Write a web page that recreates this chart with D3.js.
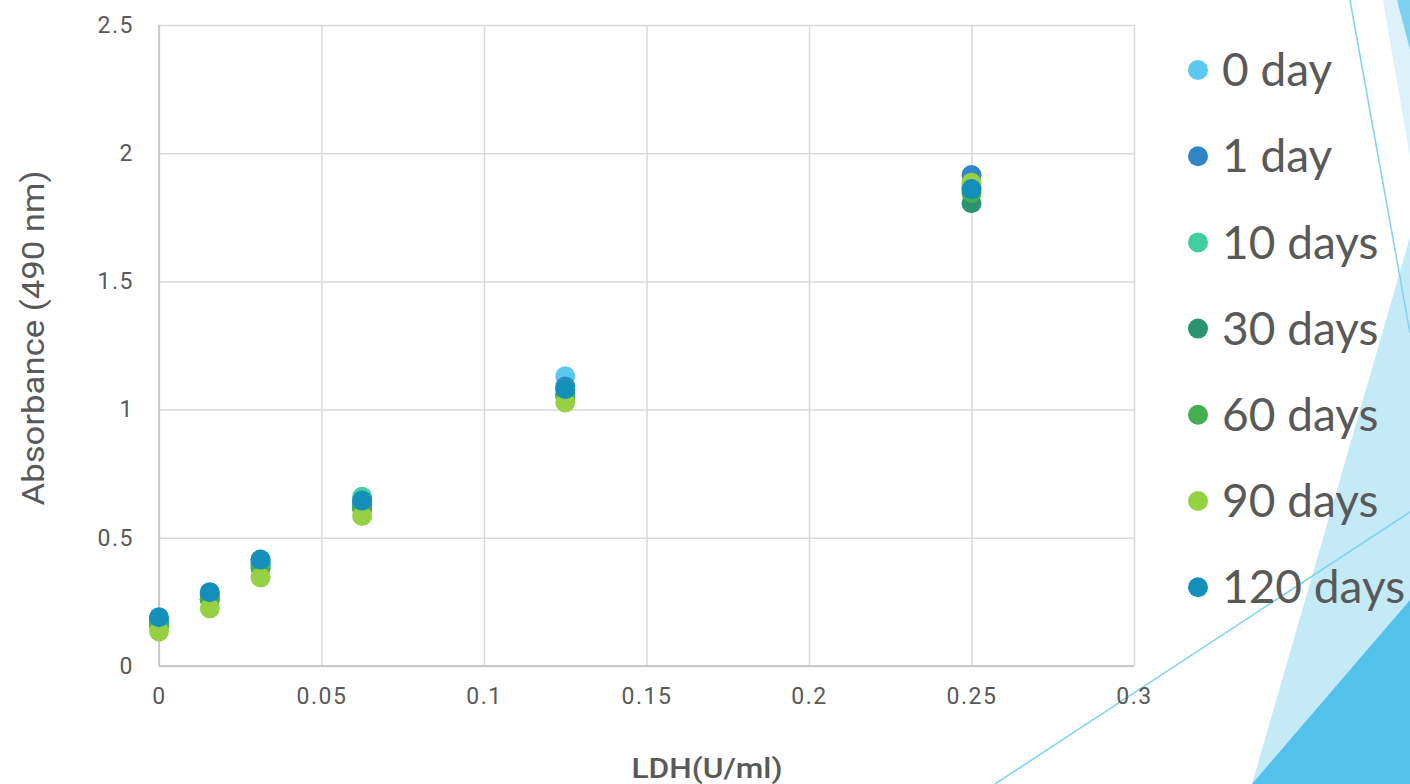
<!DOCTYPE html>
<html>
<head>
<meta charset="utf-8">
<script src="https://cdn.jsdelivr.net/npm/d3@7"></script>
<style>
  body { margin: 0; background: #fff; }
  svg { display: block; }
  .tick text { font-family: Roboto, "Open Sans", sans-serif; font-size: 23px; fill: #595959; letter-spacing: 1.5px; }
</style>
</head>
<body>
<div id="chart"></div>
<script>
// LDH concentrations (U/ml), shared x values
const ldh = [0, 0.015625, 0.03125, 0.0625, 0.125, 0.25];
// series names and colours
const seriesNames = ["0 day", "1 day", "10 days", "30 days", "60 days", "90 days", "120 days"];
const seriesColors = ["#5bc9ef", "#2f85c6", "#40cfa0", "#2b9372", "#45ae50", "#96d143", "#138fb9"];
// absorbance values
const day0 = [0.17, 0.27, 0.40, 0.63, 1.13, 1.87];
const day1 = [0.18, 0.28, 0.41, 0.64, 1.09, 1.915];
const day10 = [0.17, 0.27, 0.40, 0.66, 1.08, 1.86];
const day30 = [0.16, 0.26, 0.39, 0.62, 1.06, 1.805];
const day60 = [0.16, 0.26, 0.38, 0.61, 1.05, 1.845];
const day90 = [0.135, 0.225, 0.345, 0.585, 1.028, 1.885];
const day120 = [0.19, 0.288, 0.415, 0.645, 1.08, 1.86];
const seriesValues = [day0, day1, day10, day30, day60, day90, day120];
// tick labels
const xTicks = [0, 0.05, 0.1, 0.15, 0.2, 0.25, 0.3];
const yTicks = [0, 0.5, 1, 1.5, 2, 2.5];

const width = 1410, height = 784;
const plot = {left: 159, right: 1134, top: 25, bottom: 666};

const svg = d3.select("#chart").append("svg")
  .attr("width", width)
  .attr("height", height);

// background slide decorations (right side)
const deco = svg.append("g").attr("class", "deco");
deco.append("polygon").attr("points", "1383,0 1410,0 1410,157").attr("fill", "#dcf1fa");
deco.append("polygon").attr("points", "1397,0 1410,0 1410,50").attr("fill", "#7dd0ef");
deco.append("polygon").attr("points", "1252,784 1410,237 1410,784").attr("fill", "#c5eaf7");
deco.append("polygon").attr("points", "1252,784 1410,600 1410,784").attr("fill", "#52c2ea");
deco.append("line").attr("x1", 1350).attr("y1", 0).attr("x2", 1410).attr("y2", 333)
  .attr("stroke", "#7fd3f0").attr("stroke-width", 1.5);
deco.append("line").attr("x1", 995).attr("y1", 784).attr("x2", 1410).attr("y2", 512)
  .attr("stroke", "#7fd3f0").attr("stroke-width", 1.5);

const x = d3.scaleLinear().domain([0, 0.3]).range([plot.left, plot.right]);
const y = d3.scaleLinear().domain([0, 2.5]).range([plot.bottom, plot.top]);
const fmt = d => String(+d.toFixed(3));

// y gridlines + labels
const yAxis = svg.append("g")
  .attr("transform", `translate(${plot.left},0)`)
  .call(d3.axisLeft(y).tickValues(yTicks).tickFormat(fmt)
    .tickSize(-(plot.right - plot.left)).tickPadding(25));
yAxis.select(".domain").remove();
yAxis.selectAll(".tick line").attr("stroke", "#d9d9d9").attr("stroke-width", 1.5);

// x gridlines + labels
const xAxis = svg.append("g")
  .attr("transform", `translate(0,${plot.bottom})`)
  .call(d3.axisBottom(x).tickValues(xTicks).tickFormat(fmt)
    .tickSize(-(plot.bottom - plot.top)).tickPadding(22));
xAxis.select(".domain").remove();
xAxis.selectAll(".tick line").attr("stroke", "#d9d9d9").attr("stroke-width", 1.5);

// axis lines
svg.append("line").attr("x1", plot.left).attr("x2", plot.left)
  .attr("y1", plot.top).attr("y2", plot.bottom).attr("stroke", "#bfbfbf").attr("stroke-width", 1.5);
svg.append("line").attr("x1", plot.left).attr("x2", plot.right)
  .attr("y1", plot.bottom).attr("y2", plot.bottom).attr("stroke", "#bfbfbf").attr("stroke-width", 1.5);

// points, later series on top
seriesValues.forEach((vals, i) => {
  svg.append("g")
    .selectAll("circle")
    .data(vals)
    .join("circle")
    .attr("cx", (d, j) => x(ldh[j]))
    .attr("cy", d => y(d))
    .attr("r", 10)
    .attr("fill", seriesColors[i]);
});

// axis titles
svg.append("text")
  .attr("transform", "translate(44,338) rotate(-90)")
  .attr("text-anchor", "middle")
  .attr("textLength", 335).attr("lengthAdjust", "spacingAndGlyphs")
  .attr("font-family", "'Liberation Sans Narrow', Roboto, sans-serif")
  .attr("font-size", 32).attr("fill", "#595959")
  .text("Absorbance (490 nm)");

svg.append("text")
  .attr("x", 707).attr("y", 778)
  .attr("text-anchor", "middle")
  .attr("textLength", 151).attr("lengthAdjust", "spacingAndGlyphs")
  .attr("font-family", "Roboto, sans-serif")
  .attr("font-weight", 500)
  .attr("font-size", 27).attr("fill", "#595959")
  .text("LDH(U/ml)");

// legend
const legend = svg.append("g").attr("class", "legend")
  .selectAll("g")
  .data(seriesNames)
  .join("g")
  .attr("transform", (d, i) => `translate(1198,${70 + i * 86.2})`);
legend.append("circle").attr("r", 10).attr("fill", (d, i) => seriesColors[i]);
legend.append("text")
  .attr("x", 24).attr("dy", "0.35em")
  .attr("font-family", "Lato, sans-serif")
  .attr("font-size", 46).attr("fill", "#595959")
  .text(d => d);
</script>
</body>
</html>
